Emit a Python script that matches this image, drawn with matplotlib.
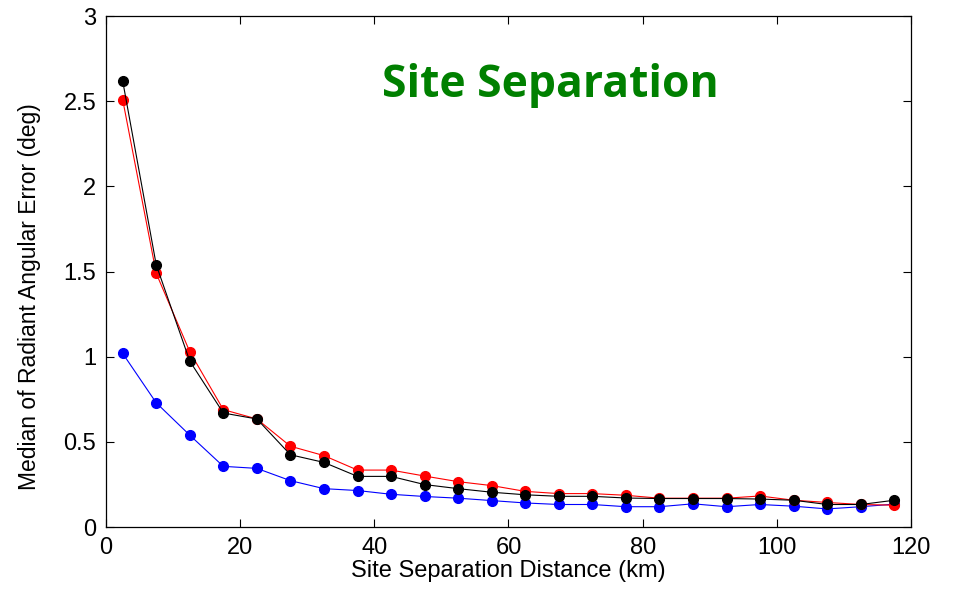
import numpy as np
from matplotlib import pyplot as plt

# ---------- Data ---------- #
distance_km = [2.5, 7.5, 12.5, 17.5, 22.5, 27.5, 32.5, 37.5, 42.5, 47.5, 52.5, 57.5,
               62.5, 67.5, 72.5, 77.5, 82.5, 87.5, 92.5, 97.5, 102.5, 107.5, 112.5, 117.5]

blue_err = [1.02, 0.73, 0.54, 0.357, 0.345, 0.273, 0.226, 0.215, 0.193, 0.18, 0.17, 0.156,
            0.142, 0.133, 0.133, 0.12, 0.12, 0.137, 0.12, 0.133, 0.123, 0.107, 0.12, 0.135]

red_err = [2.51, 1.49, 1.03, 0.69, 0.635, 0.475, 0.42, 0.335, 0.335, 0.30, 0.267, 0.244,
           0.21, 0.197, 0.197, 0.187, 0.17, 0.17, 0.17, 0.183, 0.158, 0.145, 0.133, 0.129]

black_err = [2.62, 1.54, 0.975, 0.67, 0.635, 0.425, 0.38, 0.298, 0.298, 0.25, 0.226, 0.205,
             0.19, 0.181, 0.181, 0.171, 0.168, 0.168, 0.168, 0.165, 0.158, 0.133, 0.133, 0.158]

y_ticks = [0, 0.5, 1, 1.5, 2, 2.5, 3]
y_tick_labels = ["0", "0.5", "1", "1.5", "2", "2.5", "3"]

# ---------- Plotting ---------- #
fig = plt.figure(figsize=(9.54, 5.97), dpi=100)
ax = fig.add_axes([0.111, 0.117, 0.844, 0.856])

style = dict(marker="o", markersize=7, linewidth=0.8)
ax.plot(distance_km, blue_err, color="#0000ff", **style)
ax.plot(distance_km, red_err, color="#ff0000", **style)
ax.plot(distance_km, black_err, color="#000000", **style)

ax.set_xlim(0, 120)
ax.set_ylim(0, 3)
ax.set_xticks(np.arange(0, 121, 20))
ax.set_yticks(y_ticks)
ax.set_yticklabels(y_tick_labels)
ax.tick_params(direction="in", top=True, right=True, length=6, width=0.8,
               labelsize=17, pad=7)
for lbl in ax.get_xticklabels() + ax.get_yticklabels():
    lbl.set_fontfamily("Liberation Sans")
for s in ax.spines.values():
    s.set_linewidth(0.9)

ax.set_xlabel("Site Separation Distance (km)", fontsize=17, family="Liberation Sans", labelpad=1)
ax.set_ylabel("Median of Radiant Angular Error (deg)", fontsize=16.5, family="Liberation Sans")
# label sits a little below the axis centre, like the original
ax.yaxis.set_label_coords(-0.08, 0.452)

ax.text(0.5765, 1 - 97 / 597, "Site Separation", transform=fig.transFigure, ha="center", va="baseline",
        fontsize=32, fontweight="bold", family="Open Sans", color="#008000")

fig.savefig("out.png", dpi=100)
